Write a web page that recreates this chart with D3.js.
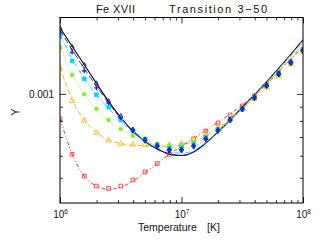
<!DOCTYPE html>
<html>
<head>
<meta charset="utf-8">
<script src="https://cdn.jsdelivr.net/npm/d3@7"></script>
<style>
    html, body { margin: 0; padding: 0; background: #fff; }
    svg { display: block; font-family: "Liberation Sans", Arial, sans-serif; }
</style>
</head>
<body>
<svg id="chart" width="322" height="241"></svg>
<script>
// Fe XVII, transition 3-50: effective collision strength vs temperature
// values are in units of 1e-4

const LOG_T = [6.0, 6.1, 6.2, 6.3, 6.4, 6.5, 6.6, 6.7, 6.8, 6.9, 7.0,
               7.1, 7.2, 7.3, 7.4, 7.5, 7.6, 7.7, 7.8, 7.9, 8.0];

const BLACK_PTS  = [17.13, 14.67, 12.64, 10.86, 9.38, 8.29, 7.42, 6.83, 6.50, 6.29, 6.29, 6.50, 6.89, 7.39, 8.06, 8.83, 9.70, 10.71, 11.80, 12.96, 14.31];
const BLUE_PTS   = [16.58, 14.10, 12.10, 10.51, 9.28, 8.23, 7.42, 6.83, 6.50, 6.29, 6.29, 6.50, 6.89, 7.39, 8.06, 8.83, 9.70, 10.71, 11.80, 12.96, 14.31];
const CYAN_PTS   = [16.10, 13.14, 11.32, 9.92, 8.96, 8.06, 7.36, 6.89, 6.55, 6.39, 6.42, 6.61, 6.97, 7.45, 8.10, 8.83, 9.70, 10.71, 11.80, 12.96, 14.31];
const GREEN_PTS  = [14.67, 11.70, 9.98, 8.83, 8.06, 7.48, 7.08, 6.80, 6.64, 6.55, 6.58, 6.75, 7.06, 7.51, 8.10, 8.80, 9.63, 10.64, 11.70, 12.87, 14.22];
const ORANGE_PTS = [12.37, 9.44, 8.02, 7.26, 6.81, 6.63, 6.58, 6.55, 6.55, 6.55, 6.64, 6.89, 7.18, 7.61, 8.13, 8.80, 9.59, 10.55, 11.61, 12.77, 14.16];
const RED_PTS    = [8.13, 6.07, 5.07, 4.67, 4.58, 4.67, 4.91, 5.25, 5.62, 6.07, 6.50, 6.89, 7.36, 7.86, 8.40, 9.05, 9.84, 10.77, 11.85, 13.04, 14.40];

const BLACK_FIT  = [17.28, 14.82, 12.72, 10.91, 9.40, 8.23, 7.36, 6.75, 6.34, 6.08, 6.01, 6.19, 6.66, 7.30, 8.06, 8.94, 9.92, 11.05, 12.35, 13.87, 15.64];
const BLUE_FIT   = [16.92, 14.40, 12.30, 10.64, 9.28, 8.16, 7.33, 6.75, 6.34, 6.08, 6.01, 6.19, 6.66, 7.30, 8.06, 8.94, 9.92, 11.05, 12.35, 13.87, 15.64];
const CYAN_FIT   = [16.30, 13.36, 11.37, 9.92, 8.87, 8.00, 7.30, 6.78, 6.42, 6.21, 6.13, 6.26, 6.69, 7.30, 8.03, 8.90, 9.88, 11.00, 12.30, 13.81, 15.51];
const GREEN_FIT  = [14.88, 11.80, 10.00, 8.83, 8.06, 7.48, 7.06, 6.75, 6.53, 6.39, 6.37, 6.50, 6.83, 7.36, 8.03, 8.83, 9.80, 10.91, 12.15, 13.59, 15.26];
const ORANGE_FIT = [12.51, 9.52, 8.06, 7.27, 6.83, 6.64, 6.55, 6.53, 6.50, 6.50, 6.55, 6.75, 7.06, 7.51, 8.10, 8.83, 9.75, 10.82, 12.05, 13.47, 15.07];
const RED_FIT    = [8.16, 6.08, 5.07, 4.67, 4.55, 4.63, 4.86, 5.22, 5.62, 6.06, 6.50, 6.92, 7.39, 7.90, 8.47, 9.13, 9.92, 10.86, 12.00, 13.31, 14.80];

const X_MAJOR = [1e6, 1e7, 1e8];
const X_MINOR = [2e6, 3e6, 4e6, 5e6, 6e6, 7e6, 8e6, 9e6, 2e7, 3e7, 4e7, 5e7, 6e7, 7e7, 8e7, 9e7];
const Y_MAJOR = [1e-3];
const Y_MINOR = [5e-4, 6e-4, 7e-4, 8e-4, 9e-4];

(function () {
    const PLOT = { left: 60, right: 303, top: 17.5, bottom: 203 };

    const svg = d3.select('#chart');

    const x = d3.scaleLog().domain([1e6, 1e8]).range([PLOT.left, PLOT.right]);
    const y = d3.scaleLog().domain([4.06e-4, 1.88e-3]).range([PLOT.bottom, PLOT.top]);

    // style table per density curve
    const series = [
        { color: '#000000', dash: null,            sym: 'diamond', fill: false, pts: BLACK_PTS,  fit: BLACK_FIT },
        { color: '#1a1aff', dash: '6,3',           sym: 'plus',    fill: false, pts: BLUE_PTS,   fit: BLUE_FIT },
        { color: '#00d8ff', dash: '5,2,1,2',       sym: 'square',  fill: true,  pts: CYAN_PTS,   fit: CYAN_FIT },
        { color: '#8ee832', dash: '1.2,2',         sym: 'circle',  fill: true,  pts: GREEN_PTS,  fit: GREEN_FIT },
        { color: '#ffb000', dash: '5,3',           sym: 'triangle',fill: false, pts: ORANGE_PTS, fit: ORANGE_FIT },
        { color: '#ff2020', dash: '4,2,1,2,1,2',   sym: 'square',  fill: false, pts: RED_PTS,    fit: RED_FIT }
    ];

    svg.append('defs').append('clipPath')
        .attr('id', 'plot-clip')
        .append('rect')
        .attr('x', PLOT.left)
        .attr('y', PLOT.top)
        .attr('width', PLOT.right - PLOT.left)
        .attr('height', PLOT.bottom - PLOT.top);

    const plotG = svg.append('g').attr('clip-path', 'url(#plot-clip)');

    const line = d3.line()
        .x(d => x(Math.pow(10, d[0])))
        .y(d => y(d[1] * 1e-4))
        .curve(d3.curveMonotoneX);

    // fits
    series.forEach(s => {
        plotG.append('path')
            .datum(LOG_T.map((t, i) => [t, s.fit[i]]))
            .attr('fill', 'none')
            .attr('stroke', s.color)
            .attr('stroke-width', s.dash ? 0.9 : 1.1)
            .attr('stroke-dasharray', s.dash)
            .attr('d', line);
    });

    // data points
    const symbolPath = {
        diamond: d3.symbol().type(d3.symbolDiamond).size(11)(),
        square: d3.symbol().type(d3.symbolSquare).size(14)(),
        circle: d3.symbol().type(d3.symbolCircle).size(11)(),
        triangle: d3.symbol().type(d3.symbolTriangle).size(13)(),
        plus: 'M-2.3,0H2.3M0,-2.3V2.3'
    };

    // low densities first so the blue crosses end up on top, as in the original
    const markerOrder = [5, 4, 3, 2, 0, 1];
    markerOrder.forEach(k => {
        const s = series[k];
        plotG.append('g')
            .selectAll('path')
            .data(LOG_T.map((t, i) => [t, s.pts[i]]))
            .join('path')
            .attr('transform', d => `translate(${x(Math.pow(10, d[0]))},${y(d[1] * 1e-4)})`)
            .attr('d', symbolPath[s.sym])
            .attr('fill', s.fill ? s.color : 'none')
            .attr('stroke', s.color)
            .attr('stroke-width', s.sym === 'plus' ? 1.3 : 0.8);
    });

    // axes: ticks point inward, frame drawn as a rect
    const tidy = g => {
        g.select('.domain').remove();
        g.selectAll('line').attr('stroke', '#000').attr('stroke-width', 0.8);
    };

    svg.append('g')
        .attr('transform', `translate(0,${PLOT.bottom})`)
        .call(d3.axisBottom(x).tickValues(X_MINOR).tickSize(-3).tickFormat(''))
        .call(tidy);
    const xMajor = svg.append('g')
        .attr('transform', `translate(0,${PLOT.bottom})`)
        .call(d3.axisBottom(x).tickValues(X_MAJOR).tickSize(-6).tickPadding(10).tickFormat(''))
        .call(tidy);
    xMajor.selectAll('.tick text')
        .attr('font-size', 10)
        .attr('fill', '#111')
        .attr('text-anchor', 'middle')
        .attr('dy', '0.45em')
        .each(function (d) {
            const t = d3.select(this);
            t.append('tspan').text('10');
            t.append('tspan').attr('font-size', 6.5).attr('dy', '-4').text(Math.round(Math.log10(d)));
        });

    svg.append('g')
        .attr('transform', `translate(0,${PLOT.top})`)
        .call(d3.axisTop(x).tickValues(X_MINOR).tickSize(-3).tickFormat(''))
        .call(tidy);
    svg.append('g')
        .attr('transform', `translate(0,${PLOT.top})`)
        .call(d3.axisTop(x).tickValues(X_MAJOR).tickSize(-6).tickFormat(''))
        .call(tidy);

    svg.append('g')
        .attr('transform', `translate(${PLOT.left},0)`)
        .call(d3.axisLeft(y).tickValues(Y_MINOR).tickSize(-3).tickFormat(''))
        .call(tidy);
    svg.append('g')
        .attr('transform', `translate(${PLOT.left},0)`)
        .call(d3.axisLeft(y).tickValues(Y_MAJOR).tickSize(-6).tickPadding(6).tickFormat(d3.format('.3f')))
        .call(tidy)
        .call(g => g.selectAll('text').attr('font-size', 10).attr('fill', '#111').attr('font-family', null));

    svg.append('g')
        .attr('transform', `translate(${PLOT.right},0)`)
        .call(d3.axisRight(y).tickValues(Y_MINOR).tickSize(-3).tickFormat(''))
        .call(tidy);
    svg.append('g')
        .attr('transform', `translate(${PLOT.right},0)`)
        .call(d3.axisRight(y).tickValues(Y_MAJOR).tickSize(-6).tickFormat(''))
        .call(tidy);

    svg.append('rect')
        .attr('x', PLOT.left)
        .attr('y', PLOT.top)
        .attr('width', PLOT.right - PLOT.left)
        .attr('height', PLOT.bottom - PLOT.top)
        .attr('fill', 'none')
        .attr('stroke', '#000')
        .attr('stroke-width', 1);

    // titles
    svg.append('text')
        .attr('x', 96).attr('y', 12.5)
        .attr('font-size', 11)
        .attr('fill', '#111')
        .attr('textLength', 39)
        .text('Fe XVII');
    svg.append('text')
        .attr('x', 169).attr('y', 12.5)
        .attr('font-size', 11)
        .attr('fill', '#111')
        .attr('textLength', 98)
        .text('Transition 3\u221250');

    svg.append('text')
        .attr('x', 138).attr('y', 230.5)
        .attr('font-size', 10.5)
        .attr('fill', '#111')
        .text('Temperature');
    svg.append('text')
        .attr('x', 207).attr('y', 230.5)
        .attr('font-size', 10.5)
        .attr('fill', '#111')
        .text('[K]');

    svg.append('text')
        .attr('transform', 'translate(19,112) rotate(-90)')
        .attr('text-anchor', 'middle')
        .attr('font-size', 11)
        .attr('fill', '#111')
        .text('\u03a5');
})();
</script>
</body>
</html>
